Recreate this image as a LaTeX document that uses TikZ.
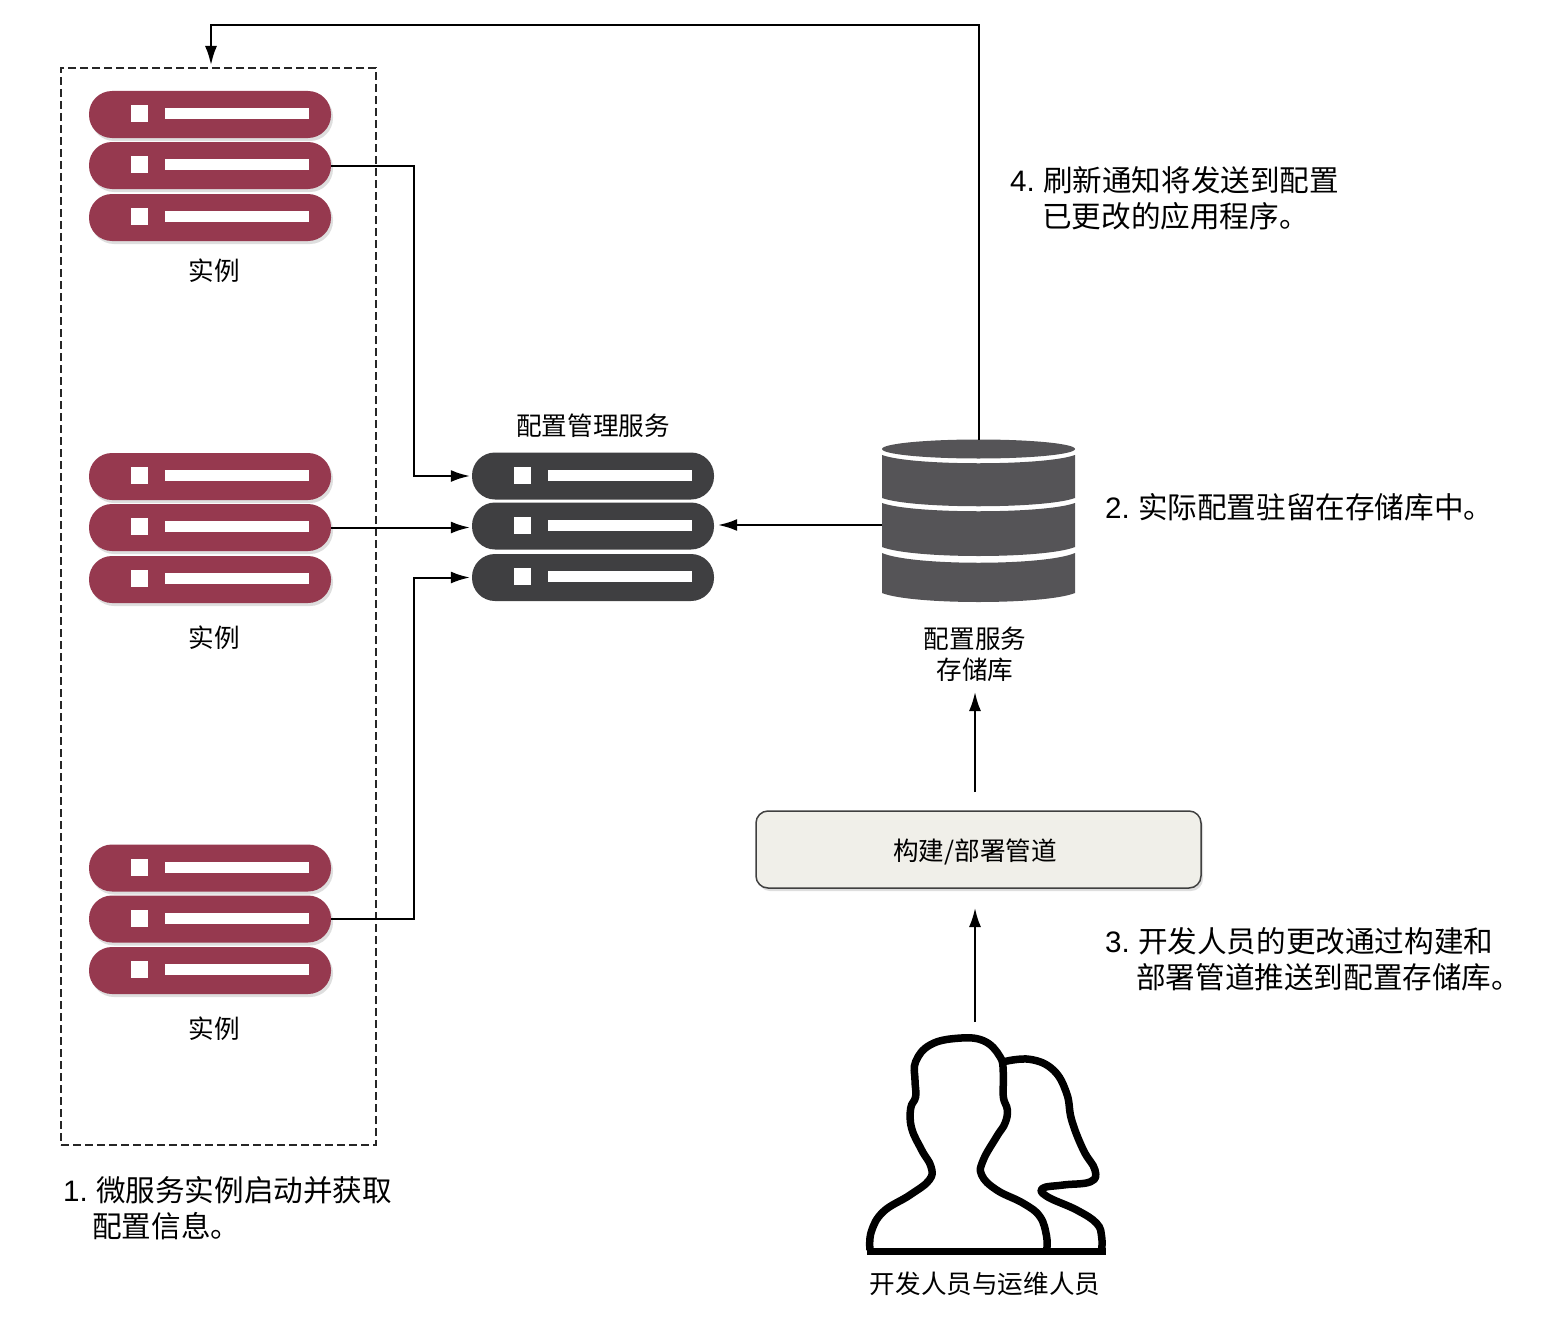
\documentclass[tikz,border=0pt]{standalone}
\usepackage{fontspec}
\setmainfont{Liberation Sans}
\newfontfamily\cjk{Noto Sans CJK SC}
\usetikzlibrary{arrows.meta,fit,shadows}

\definecolor{instred}{HTML}{96394F}
\definecolor{svcdark}{HTML}{3F3F41}
\definecolor{dbgray}{HTML}{555457}
\definecolor{pipefill}{HTML}{F0EFE9}

% one bar of a server stack: name, x, y, style
\newcommand{\serverbar}[4]{
  \node[#4] (#1) at (#2,#3) {};
  \node[dot] (#1_d) at ([xshift=-70.5pt,yshift=1pt]#1.center) {};
  \node[strip] (#1_s) at ([xshift=27pt,yshift=1pt]#1.center) {};
}

\begin{document}
\begin{tikzpicture}[x=1pt,y=-1pt]
\tikzstyle{bar}=[rectangle, rounded corners=23pt, minimum width=242pt, minimum height=47pt, inner sep=0pt]
\tikzstyle{instbar}=[bar, fill=instred, drop shadow={shadow xshift=2pt, shadow yshift=-3pt, fill=black!13, opacity=1}]
\tikzstyle{svcbar}=[bar, fill=svcdark]
\tikzstyle{dot}=[rectangle, fill=white, minimum size=17pt, inner sep=0pt]
\tikzstyle{strip}=[rectangle, fill=white, minimum width=144pt, minimum height=11pt, inner sep=0pt]
\tikzstyle{connect}=[-{Latex[length=19pt,width=12pt]}, line width=2pt]
\tikzstyle{label}=[inner sep=0pt, align=center, font=\fontsize{25.6}{31}\cjk]
\tikzstyle{note}=[anchor=west, inner sep=0pt, align=left, font=\fontsize{29.6}{36}\cjk]
\newcommand{\num}[1]{{\fontsize{29.6}{36}\normalfont #1~}}

\useasboundingbox (0,0) rectangle (1564,1322);

%% Instances
  \serverbar{inst_a1}{210}{114.5}{instbar}
  \serverbar{inst_a2}{210}{165.5}{instbar}
  \serverbar{inst_a3}{210}{217.5}{instbar}
  \node[label] (inst_a) at (214,271) {实例};

  \serverbar{inst_b1}{210}{476.5}{instbar}
  \serverbar{inst_b2}{210}{527.5}{instbar}
  \serverbar{inst_b3}{210}{579.5}{instbar}
  \node[label] (inst_b) at (214,638) {实例};

  \serverbar{inst_c1}{210}{868}{instbar}
  \serverbar{inst_c2}{210}{919}{instbar}
  \serverbar{inst_c3}{210}{970.5}{instbar}
  \node[label] (inst_c) at (214,1029) {实例};

  \node[rectangle, draw=black!85, line width=1.8pt, dash pattern=on 8pt off 4pt, inner sep=0pt, minimum width=315pt, minimum height=1077pt] (instbox) at (218.5,606.5) {};

%% Config manager
  \serverbar{svc_1}{593}{476}{svcbar}
  \serverbar{svc_2}{593}{526}{svcbar}
  \serverbar{svc_3}{593}{577.5}{svcbar}
  \node[label] (svc) at (593,426) {配置管理服务};

%% Repository
  \fill[dbgray] (978.5,449) ellipse [x radius=96.5, y radius=9.5];
  \fill[dbgray] (882,455) .. controls (912,466) and (1045,466) .. (1075,455) -- (1075,498) .. controls (1045,509) and (912,509) .. (882,498) -- cycle;
  \fill[dbgray] (882,503) .. controls (912,514) and (1045,514) .. (1075,503) -- (1075,547) .. controls (1045,559) and (912,559) .. (882,547) -- cycle;
  \fill[dbgray] (882,553) .. controls (912,566) and (1045,566) .. (1075,553) -- (1075,593) .. controls (1045,605) and (912,605) .. (882,593) -- cycle;
  \node[rectangle, inner sep=0pt, minimum width=193pt, minimum height=162pt] (repo) at (978.5,521) {};
  \node[label] (repolabel) at (975,654) {配置服务\\存储库};

%% Pipeline
  \node[rectangle, rounded corners=12pt, draw=black!75, line width=1.5pt, fill=pipefill, minimum width=445pt, minimum height=77pt, inner sep=0pt, drop shadow={shadow xshift=2pt, shadow yshift=-3pt, fill=black!13, opacity=1}] (pipe) at (978.5,849.5) {};
  \node[label] (pipetext) at (975,851.5) {构建/部署管道};

%% People
  \begin{scope}[shift={(850,1020)}, x=0.3333pt, y=-0.3333pt, line width=7.5pt, line join=round]
    \draw plot[smooth, tension=0.7] coordinates {(60,690) (64,635) (100,575) (180,525) (238,480) (243,440) (215,390) (185,325) (182,265) (197,230) (195,180) (197,125) (240,75) (320,55) (400,62) (450,110) (460,160) (460,230) (472,270) (465,310) (440,350) (400,420) (395,465) (440,510) (520,550) (570,590) (590,650) (590,690)};
    \draw plot[smooth, tension=0.7] coordinates {(462,125) (540,118) (610,150) (650,220) (665,300) (700,390) (735,450) (722,485) (640,495) (578,505) (592,530) (680,570) (740,610) (755,650) (755,690)};
    \draw[line width=7pt] (50,695) -- (767,695);
  \end{scope}
  \node[rectangle, inner sep=0pt, minimum width=238pt, minimum height=218pt] (people) at (985,1145) {};
  \node[label] (peoplelabel) at (985,1284) {开发人员与运维人员};

%% Notes
  \node[note] (note1) at (63,1208) {\num{1.}微服务实例启动并获取\\\hspace*{29pt}配置信息。};
  \node[note] (note2) at (1105,507) {\num{2.}实际配置驻留在存储库中。};
  \node[note] (note3) at (1105,959) {\num{3.}开发人员的更改通过构建和\\\hspace*{31pt}部署管道推送到配置存储库。};
  \node[note] (note4) at (1010,198) {\num{4.}刷新通知将发送到配置\\\hspace*{32pt}已更改的应用程序。};

%% Connectors
  \coordinate (loopTop) at (211,25);
  \coordinate (boxIn) at (211,65);
  \coordinate (repoOut) at (882,525);
  \coordinate (repoIn) at (975,692);
  \coordinate (pipeOut) at (975,792);
  \coordinate (pipeIn) at (975,908);
  \coordinate (peopleOut) at (975,1022);

  \draw[connect, shorten >=2pt] (inst_a2.east) -- (414,165.5) |- (svc_1.west);
  \draw[connect, shorten >=2pt] (inst_b2.east) -- (svc_2.west |- inst_b2.east);
  \draw[connect, shorten >=2pt] (inst_c2.east) -- (414,919) |- (svc_3.west);
  \draw[connect, shorten >=4pt] (repoOut) -- (svc_2.east |- repoOut);
  \draw[connect] (repo.north) |- (loopTop) -- (boxIn);
  \path
       (pipeOut) edge [connect] (repoIn)
       (peopleOut) edge [connect] (pipeIn);
\end{tikzpicture}
\end{document}
